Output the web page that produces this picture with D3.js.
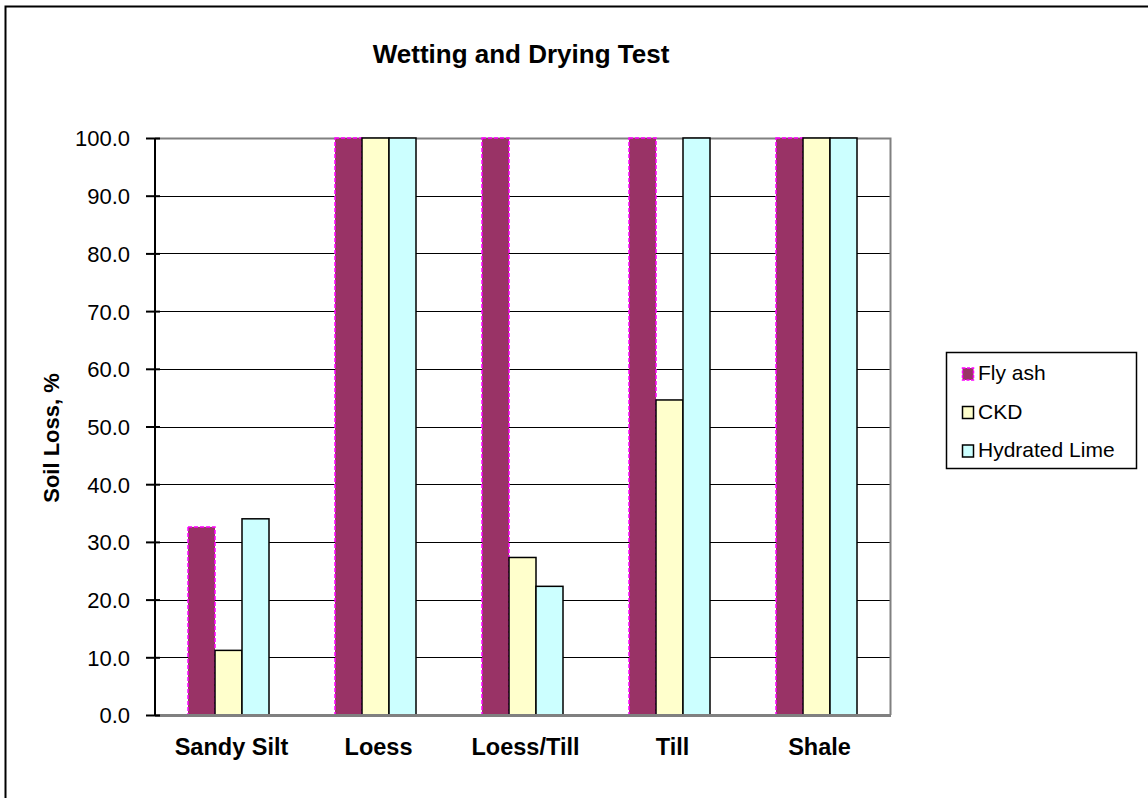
<!DOCTYPE html>
<html>
<head>
<meta charset="utf-8">
<style>
  body { margin: 0; background: #fff; }
  svg { display: block; font-family: "Liberation Sans", Arial, sans-serif; }
</style>
<script src="https://d3js.org/d3.v7.min.js"></script>
</head>
<body>
<div id="chart"></div>
<script>
// soil types along the x axis
var categories = ["Sandy Silt", "Loess", "Loess/Till", "Till", "Shale"];
var seriesNames = ["Fly ash", "CKD", "Hydrated Lime"];
// soil loss, %
var flyAsh = [32.6, 100, 100, 100, 100];
var ckd = [11.2, 100, 27.3, 54.6, 100];
var hydratedLime = [34.0, 100, 22.3, 100, 100];
var yTicks = [0, 10, 20, 30, 40, 50, 60, 70, 80, 90, 100];

var seriesValues = [flyAsh, ckd, hydratedLime];
var fills = ["#993366", "#FFFFCC", "#CCFFFF"];
var strokes = ["#FF00FF", "#000", "#000"];

var W = 1148, H = 798;
var plot = { left: 155, right: 890, top: 138, bottom: 715 };

var svg = d3.select("#chart").append("svg")
    .attr("width", W).attr("height", H);

// outer chart border (runs off the right/bottom edge)
svg.append("rect")
    .attr("x", 5.5).attr("y", 6.5)
    .attr("width", W + 10).attr("height", H + 10)
    .attr("fill", "#fff").attr("stroke", "#000").attr("stroke-width", 2);

var x0 = d3.scaleBand()
    .domain(categories)
    .range([plot.left, plot.right])
    .paddingInner(0).paddingOuter(0);

var x1 = d3.scaleBand()
    .domain(seriesNames)
    .range([33, x0.bandwidth() - 33]);

var y = d3.scaleLinear()
    .domain([0, 100])
    .range([plot.bottom, plot.top]);

// gridlines
svg.append("g")
  .selectAll("line")
  .data(yTicks.filter(function(d) { return d > 0 && d < 100; }))
  .join("line")
    .attr("x1", plot.left).attr("x2", plot.right)
    .attr("y1", function(d) { return Math.round(y(d)) + 0.5; })
    .attr("y2", function(d) { return Math.round(y(d)) + 0.5; })
    .attr("stroke", "#000").attr("stroke-width", 1);

// plot area frame (top + right), gray
svg.append("path")
    .attr("d", "M" + plot.left + "," + (plot.top + 0.5) + "H" + (plot.right + 0.5) + "V" + plot.bottom)
    .attr("fill", "none").attr("stroke", "#808080").attr("stroke-width", 2);

// bars
var groups = svg.append("g")
  .selectAll("g")
  .data(categories)
  .join("g")
    .attr("transform", function(d) { return "translate(" + x0(d) + ",0)"; });

groups.selectAll("rect")
  .data(function(d, i) {
    return seriesNames.map(function(s, j) { return { s: s, j: j, v: seriesValues[j][i] }; });
  })
  .join("rect")
    .attr("x", function(d) { return x1(d.s); })
    .attr("y", function(d) { return y(d.v); })
    .attr("width", x1.bandwidth())
    .attr("height", function(d) { return y(0) - y(d.v); })
    .attr("fill", function(d) { return fills[d.j]; })
    .attr("stroke", function(d) { return strokes[d.j]; })
    .attr("stroke-width", 1.5)
    .attr("stroke-dasharray", function(d) { return d.j === 0 ? "4,2" : null; });

// x axis line (gray)
svg.append("line")
    .attr("x1", plot.left).attr("x2", plot.right + 1)
    .attr("y1", plot.bottom + 0.5).attr("y2", plot.bottom + 0.5)
    .attr("stroke", "#808080").attr("stroke-width", 3);

// y axis
var yAxis = svg.append("g")
    .attr("transform", "translate(" + plot.left + ",0)")
    .call(d3.axisLeft(y).tickValues(yTicks).tickSize(7)
      .tickFormat(d3.format(".1f")));
yAxis.select(".domain").attr("stroke", "#000").attr("stroke-width", 2)
    .attr("d", "M0," + plot.top + "V" + plot.bottom);
yAxis.selectAll(".tick line").attr("stroke", "#000").attr("stroke-width", 2).attr("x2", -9).attr("x1", 5);
yAxis.selectAll(".tick text")
    .attr("font-size", 22).attr("fill", "#000")
    .attr("font-family", "Liberation Sans, Arial, sans-serif")
    .attr("x", -25).attr("dy", "0.36em");

// x category labels
svg.append("g")
  .selectAll("text")
  .data(categories)
  .join("text")
    .attr("x", function(d) { return x0(d) + x0.bandwidth() / 2 + 3; })
    .attr("y", 755)
    .attr("text-anchor", "middle")
    .attr("font-size", 23.5).attr("font-weight", "bold")
    .text(function(d) { return d; });

// title
svg.append("text")
    .attr("x", 521).attr("y", 63)
    .attr("text-anchor", "middle")
    .attr("font-size", 26).attr("font-weight", "bold")
    .text("Wetting and Drying Test");

// y label
svg.append("text")
    .attr("transform", "translate(59,438) rotate(-90)")
    .attr("text-anchor", "middle")
    .attr("font-size", 22).attr("font-weight", "bold")
    .text("Soil Loss, %");

// legend
var legend = svg.append("g").attr("transform", "translate(946,352)");
legend.append("rect")
    .attr("x", 0.5).attr("y", 0.5).attr("width", 190).attr("height", 116)
    .attr("fill", "#fff").attr("stroke", "#000").attr("stroke-width", 1.5);
var items = legend.selectAll("g.item")
  .data(seriesNames)
  .join("g")
    .attr("class", "item")
    .attr("transform", function(d, i) { return "translate(16," + (28 + i * 38.5) + ")"; });
items.append("rect")
    .attr("x", 0.5).attr("y", -12).attr("width", 11).attr("height", 12)
    .attr("fill", function(d, i) { return fills[i]; })
    .attr("stroke", function(d, i) { return strokes[i]; })
    .attr("stroke-width", 1.5)
    .attr("stroke-dasharray", function(d, i) { return i === 0 ? "3,1.5" : null; });
items.append("text")
    .attr("x", 16).attr("y", 0)
    .attr("font-size", 21)
    .text(function(d) { return d; });
</script>
</body>
</html>
